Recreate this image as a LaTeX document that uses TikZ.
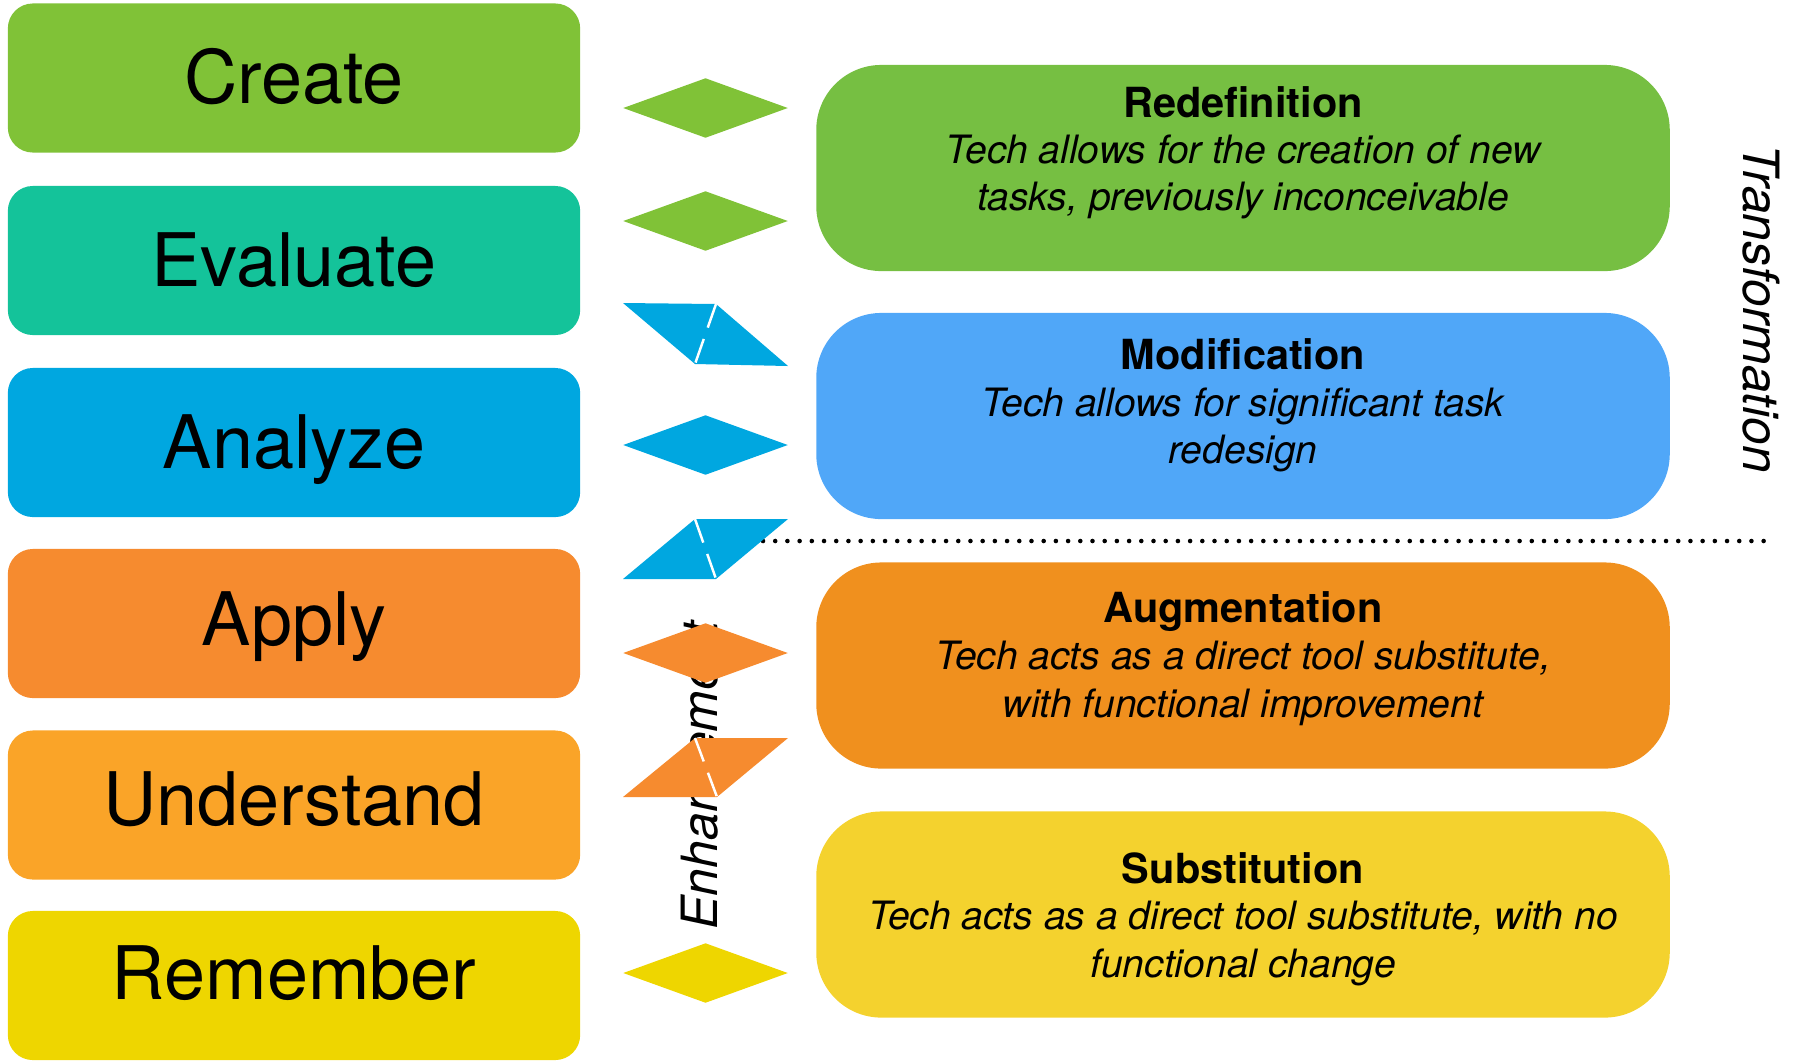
\documentclass[tikz,border=0pt]{standalone}
\usepackage{fontspec}
\setmainfont{TeX Gyre Heros}
\usepackage{xcolor}
\usetikzlibrary{shapes.geometric}
\definecolor{cCreate}{RGB}{128,194,55}
\definecolor{cEvaluate}{RGB}{20,195,154}
\definecolor{cAnalyze}{RGB}{0,167,224}
\definecolor{cApply}{RGB}{246,139,47}
\definecolor{cUnderstand}{RGB}{250,164,40}
\definecolor{cRemember}{RGB}{238,214,0}
\definecolor{cRedef}{RGB}{118,191,66}
\definecolor{cModif}{RGB}{80,167,248}
\definecolor{cAugment}{RGB}{240,144,30}
\definecolor{cSubst}{RGB}{244,210,46}

\begin{document}
\begin{tikzpicture}[x = 0.01cm, y = -0.01cm,
  lbox/.style = {rectangle, rounded corners = 0.25cm, minimum width = 5.72cm, minimum height = 1.49cm, inner sep = 0},
  rbox/.style = {rectangle, rounded corners = 0.65cm, minimum width = 8.53cm, minimum height = 2.06cm, inner sep = 0},
  rhomb/.style = {diamond, minimum width = 1.65cm, minimum height = 0.6cm, inner sep = 0},
  ltext/.style = {anchor = base, inner sep = 0, font = \fontsize{21}{25}\selectfont},
  rtitle/.style = {anchor = base, inner sep = 0, font = \bfseries\fontsize{11.8}{14}\selectfont},
  rbody/.style = {anchor = base, inner sep = 0, font = \itshape\fontsize{11.1}{13}\selectfont},
  side/.style = {anchor = base west, inner sep = 0, font = \itshape\fontsize{14.2}{17}\selectfont},
  gap/.style = {white, line width = 0.7pt, dash pattern = on 0.25cm off 0.12cm},
  dots/.style = {line width = 1.3pt, line cap = round, dash pattern = on 0pt off 3.47pt}]
\useasboundingbox (0,0) rectangle (1795,1060);

% Bloom levels
\node[lbox, fill = cCreate] (create) at (294,78) {};
\node[lbox, fill = cEvaluate] (evaluate) at (294,260.5) {};
\node[lbox, fill = cAnalyze] (analyze) at (294,442.5) {};
\node[lbox, fill = cApply] (apply) at (294,623.5) {};
\node[lbox, fill = cUnderstand] (understand) at (294,805) {};
\node[lbox, fill = cRemember] (remember) at (294,985.5) {};
\node[ltext] (create-t) at (294,103.6) {Create};
\node[ltext] (evaluate-t) at (294,286) {Evaluate};
\node[ltext] (analyze-t) at (294,468.6) {Analyze};
\node[ltext] (apply-t) at (294,645) {Apply};
\node[ltext] (understand-t) at (294,825) {Understand};
\node[ltext] (remember-t) at (294,999) {Remember};

% SAMR levels
\node[rbox, fill = cRedef] (redef) at (1243,168) {};
\node[rbox, fill = cModif] (modif) at (1243,416) {};
\node[rbox, fill = cAugment] (augment) at (1243,665.5) {};
\node[rbox, fill = cSubst] (subst) at (1243,914.5) {};
\node[rtitle] (redef-t) at (1243,117) {Redefinition};
\node[rbody] (redef-1) at (1243,163) {Tech allows for the creation of new};
\node[rbody] (redef-2) at (1243,210) {tasks, previously inconceivable};
\node[rtitle] (modif-t) at (1243,369) {Modification};
\node[rbody] (modif-1) at (1243,416) {Tech allows for significant task};
\node[rbody] (modif-2) at (1243,463) {redesign};
\node[rtitle] (augment-t) at (1243,622) {Augmentation};
\node[rbody] (augment-1) at (1243,669) {Tech acts as a direct tool substitute,};
\node[rbody] (augment-2) at (1243,717) {with functional improvement};
\node[rtitle] (subst-t) at (1243,883) {Substitution};
\node[rbody] (subst-1) at (1243,929) {Tech acts as a direct tool substitute, with no};
\node[rbody] (subst-2) at (1243,977) {functional change};

% divider and side labels
\coordinate (div-l) at (763,541);
\coordinate (div-r) at (1772,541);
\draw[dots] (div-l) -- (div-r);
\node[side, rotate = 90] (enh) at (717,930) {Enhancement};
\node[side, rotate = -90] (transf) at (1743,144) {Transformation};

% links
\node[rhomb, fill = cCreate] (link-1) at (705.5,108) {};
\node[rhomb, fill = cCreate] (link-2) at (705.5,221) {};
\fill[cAnalyze] (623,303) -- (716,304) -- (788,366) -- (695,364) -- cycle;
\draw[gap] (716,304) -- (695,364);
\node[rhomb, fill = cAnalyze] (link-4) at (705.5,445) {};
\fill[cAnalyze] (695,519) -- (788,519) -- (716,579) -- (623,579) -- cycle;
\draw[gap] (695,519) -- (716,579);
\node[rhomb, fill = cApply] (link-6) at (705.5,653) {};
\fill[cApply] (695,738) -- (788,738) -- (717,797) -- (623,797) -- cycle;
\draw[gap] (695,738) -- (717,797);
\node[rhomb, fill = cRemember] (link-8) at (705.5,973) {};
\end{tikzpicture}
\end{document}
